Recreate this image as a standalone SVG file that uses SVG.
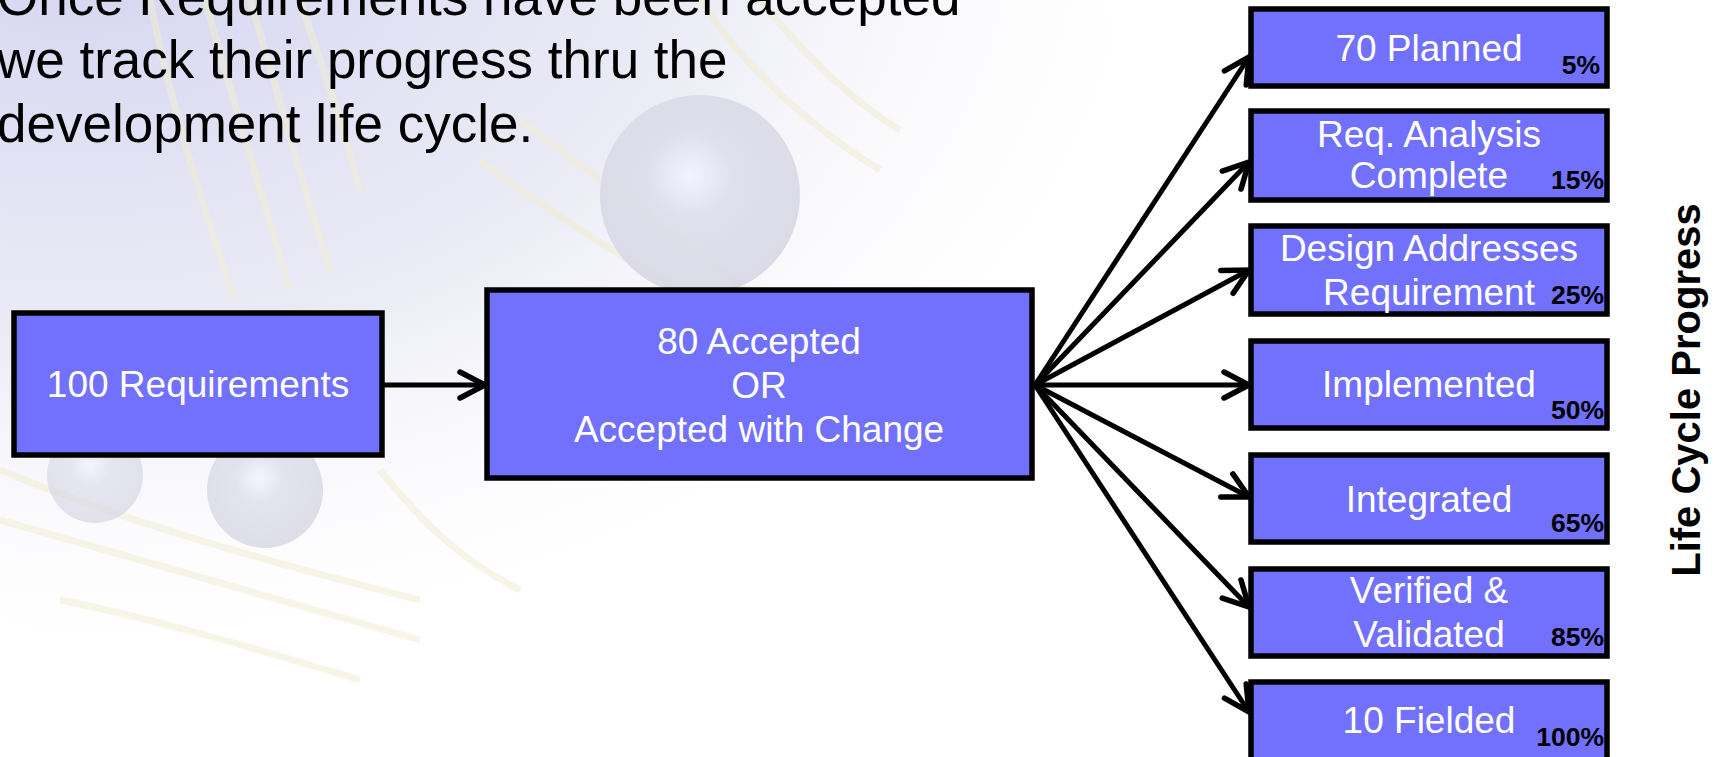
<svg xmlns="http://www.w3.org/2000/svg" width="1725" height="757" viewBox="0 0 1725 757">
  <defs>
    <style>
      .box { fill: #7171fe; stroke: #000; stroke-width: 5.5; }
      .lbl { fill: #fff; font-family: "Liberation Sans", Arial, sans-serif; font-size: 37px; text-anchor: middle; }
      .pct { fill: #000; font-family: "Liberation Sans", Arial, sans-serif; font-weight: bold; font-size: 26.5px; text-anchor: end; }
      .conn { stroke: #000; stroke-width: 5; fill: none; marker-end: url(#arrow); }
      .wire { fill: none; stroke: #f1ecd2; stroke-width: 7; opacity: 0.55; }
      .title { fill: #000; font-family: "Liberation Sans", Arial, sans-serif; font-size: 53px; }
    </style>
    <marker id="arrow" markerUnits="userSpaceOnUse" viewBox="-32 -18 36 36" markerWidth="36" markerHeight="36" refX="0" refY="0" orient="auto">
      <path d="M-25,-13 L0,0 L-25,13" fill="none" stroke="#000" stroke-width="5.5" stroke-linecap="round" stroke-linejoin="miter"/>
    </marker>
    <radialGradient id="wash" cx="0.3" cy="0.25" r="0.75">
      <stop offset="0" stop-color="#cfcff0" stop-opacity="0.95"/>
      <stop offset="0.55" stop-color="#dedef0" stop-opacity="0.6"/>
      <stop offset="1" stop-color="#ffffff" stop-opacity="0"/>
    </radialGradient>
    <radialGradient id="ball" cx="0.45" cy="0.4" r="0.6">
      <stop offset="0" stop-color="#f2f4ff"/>
      <stop offset="0.35" stop-color="#dcdcea"/>
      <stop offset="1" stop-color="#d4d4e2"/>
    </radialGradient>
  </defs>

  <rect width="1725" height="757" fill="#fff"/>

  <!-- faint background artwork -->
  <g id="backdrop">
    <ellipse cx="380" cy="170" rx="760" ry="520" fill="url(#wash)"/>
    <path class="wire" d="M150,0 C170,100 200,200 235,300"/>
    <path class="wire" d="M205,0 C230,90 260,190 290,290"/>
    <path class="wire" d="M250,0 C275,80 300,180 330,270"/>
    <path class="wire" d="M300,0 C320,60 345,130 360,190"/>
    <path class="wire" d="M700,0 C740,60 800,120 880,170"/>
    <path class="wire" d="M760,0 C800,50 850,100 900,130"/>
    <path class="wire" d="M520,120 C600,180 680,240 760,300"/>
    <path class="wire" d="M480,160 C560,220 640,270 720,310"/>
    <path class="wire" d="M0,470 C120,520 260,560 420,600"/>
    <path class="wire" d="M0,520 C140,560 280,600 420,640"/>
    <path class="wire" d="M60,600 C160,620 260,650 360,680"/>
    <path class="wire" d="M380,470 C420,520 460,560 520,590"/>
    <circle cx="700" cy="195" r="100" fill="url(#ball)" opacity="0.8"/>
    <circle cx="265" cy="490" r="58" fill="url(#ball)" opacity="0.75"/>
    <circle cx="95" cy="475" r="48" fill="url(#ball)" opacity="0.65"/>
  </g>

  <!-- heading -->
  <g id="heading">
    <text class="title" x="-3" y="15">Once Requirements have been accepted</text>
    <text class="title" x="-3" y="78">we track their progress thru the</text>
    <text class="title" x="-3" y="142">development life cycle.</text>
  </g>

  <!-- connectors -->
  <g id="connectors">
    <line class="conn" x1="383" y1="385" x2="485" y2="385"/>
    <line class="conn" x1="1035" y1="385" x2="1249" y2="57"/>
    <line class="conn" x1="1035" y1="385" x2="1249" y2="162"/>
    <line class="conn" x1="1035" y1="385" x2="1249" y2="270"/>
    <line class="conn" x1="1035" y1="385" x2="1249" y2="385"/>
    <line class="conn" x1="1035" y1="385" x2="1249" y2="497"/>
    <line class="conn" x1="1035" y1="385" x2="1249" y2="607"/>
    <line class="conn" x1="1035" y1="385" x2="1249" y2="712"/>
  </g>

  <g id="requirements">
    <rect class="box" x="14" y="313" width="368" height="142"/>
    <text class="lbl" x="198" y="397">100 Requirements</text>
  </g>

  <g id="accepted">
    <rect class="box" x="487" y="290" width="545" height="188"/>
    <text class="lbl" x="759" y="354">80 Accepted</text>
    <text class="lbl" x="759" y="398">OR</text>
    <text class="lbl" x="759" y="442">Accepted with Change</text>
  </g>

  <g id="planned">
    <rect class="box" x="1251" y="9" width="356" height="77"/>
    <text class="lbl" x="1429" y="61">70 Planned</text>
    <text class="pct" x="1600" y="74">5%</text>
  </g>

  <g id="analysis">
    <rect class="box" x="1251" y="111" width="356" height="89"/>
    <text class="lbl" x="1429" y="147">Req. Analysis</text>
    <text class="lbl" x="1429" y="188">Complete</text>
    <text class="pct" x="1604" y="189">15%</text>
  </g>

  <g id="design">
    <rect class="box" x="1251" y="226" width="356" height="88"/>
    <text class="lbl" x="1429" y="261">Design Addresses</text>
    <text class="lbl" x="1429" y="305">Requirement</text>
    <text class="pct" x="1604" y="304">25%</text>
  </g>

  <g id="implemented">
    <rect class="box" x="1251" y="341" width="356" height="87"/>
    <text class="lbl" x="1429" y="397">Implemented</text>
    <text class="pct" x="1604" y="419">50%</text>
  </g>

  <g id="integrated">
    <rect class="box" x="1251" y="455" width="356" height="87"/>
    <text class="lbl" x="1429" y="512">Integrated</text>
    <text class="pct" x="1604" y="532">65%</text>
  </g>

  <g id="verified">
    <rect class="box" x="1251" y="569" width="356" height="87"/>
    <text class="lbl" x="1429" y="603">Verified &amp;</text>
    <text class="lbl" x="1429" y="647">Validated</text>
    <text class="pct" x="1604" y="646">85%</text>
  </g>

  <g id="fielded">
    <rect class="box" x="1251" y="682" width="356" height="95"/>
    <text class="lbl" x="1429" y="733">10 Fielded</text>
    <text class="pct" x="1604" y="746">100%</text>
  </g>

  <g id="axis-label">
    <text x="1700" y="390" transform="rotate(-90 1700 390)" font-family="Liberation Sans, Arial, sans-serif" font-weight="bold" font-size="40" text-anchor="middle" fill="#000">Life Cycle Progress</text>
  </g>
</svg>
